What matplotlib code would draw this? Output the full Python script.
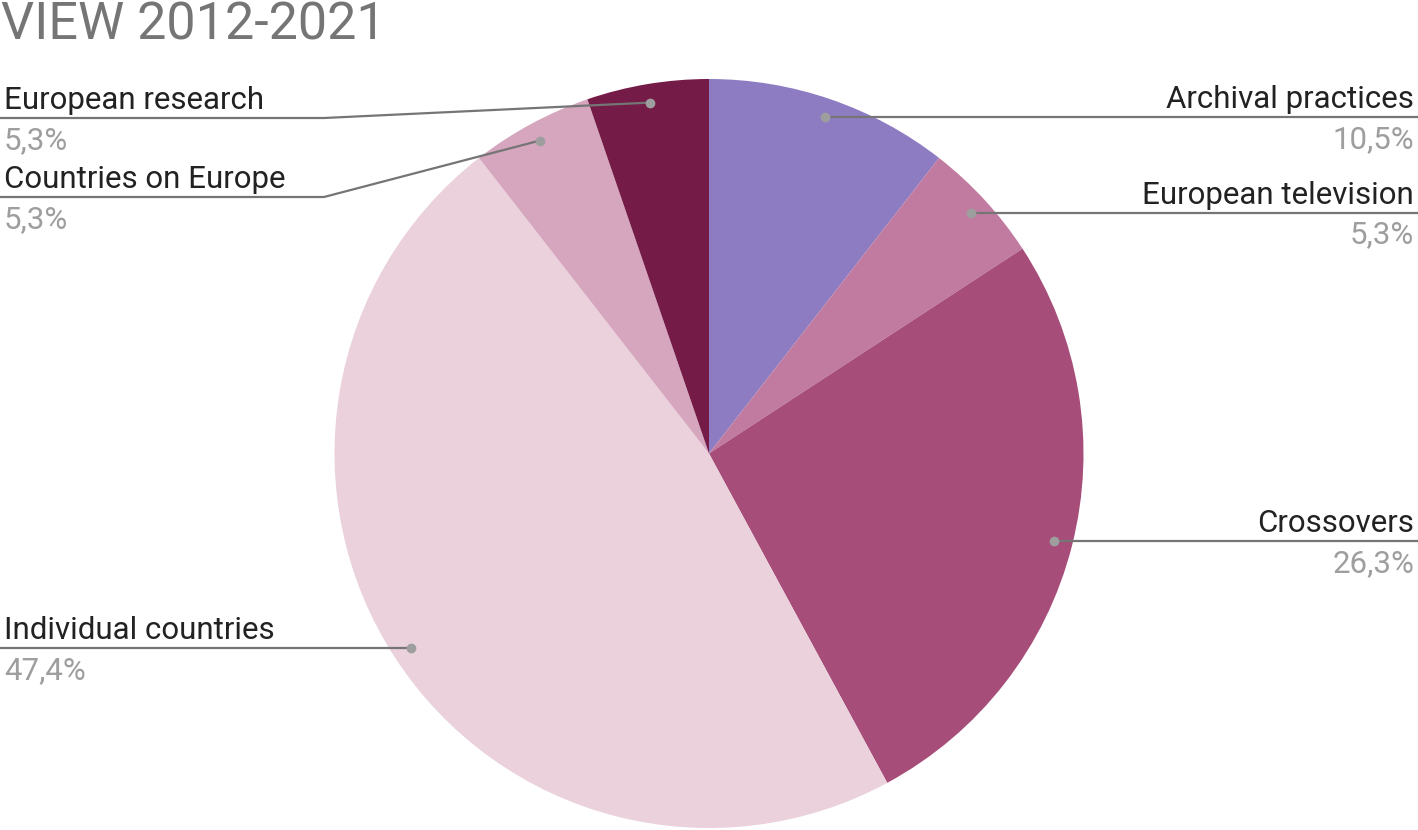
"""Круговая диаграмма VIEW 2012-2021 в стиле Google Sheets."""

import matplotlib

matplotlib.use("Agg")
import matplotlib.pyplot as plt  # noqa: E402
import numpy as np  # noqa: E402

plt.rcParams["font.family"] = ["Roboto", "DejaVu Sans"]

# --- данные -------------------------------------------------------------

categories = [
    "Archival practices",
    "European television",
    "Crossovers",
    "Individual countries",
    "Countries on Europe",
    "European research",
]
counts = [2, 1, 5, 9, 1, 1]
colors = ["#8e7cc3", "#c27ba0", "#a64d79", "#ead1dc", "#d5a6bd", "#741b47"]

# сторона подписи и (для левых) высота выноски, если она не совпадает с точкой
label_side = ["right", "right", "right", "left", "left", "left"]
label_line_y = [None, None, None, None, 197, 118]

# --- геометрия (в пикселях, ось y вниз) ---------------------------------

W, H = 1418, 830
cx, cy, R = 709, 453.5, 374.5
elbow_x = 324
line_col = "#757575"
dot_col = "#9e9e9e"

fig = plt.figure(figsize=(W / 100, H / 100), dpi=100)
ax = fig.add_axes([0, 0, 1, 1])

ax.pie(
    counts, colors=colors, center=(cx, cy), radius=R,
    startangle=-90, counterclock=True,
    wedgeprops=dict(linewidth=0), frame=True,
)
ax.set_xlim(0, W)
ax.set_ylim(H, 0)
ax.set_aspect("equal")
ax.axis("off")

total = sum(counts)
fracs = np.array(counts) / total
mids = -90 + 360 * (np.cumsum(fracs) - fracs / 2)

for name, frac, mid, side, ly in zip(categories, fracs, mids, label_side, label_line_y):
    a = np.deg2rad(mid)
    dx, dy = cx + 0.95 * R * np.cos(a), cy + 0.95 * R * np.sin(a)
    pct = f"{frac * 100:.1f}".replace(".", ",") + "%"
    if ly is None:
        ly = dy
    if side == "right":
        ax.plot([dx, W], [dy, dy], color=line_col, lw=1.6, zorder=3)
        tx, ha = W - 4, "right"
    else:
        if abs(ly - dy) < 1:
            ax.plot([0, dx], [dy, dy], color=line_col, lw=1.6, zorder=3)
        else:
            ax.plot([0, elbow_x, dx], [ly, ly, dy], color=line_col, lw=1.6, zorder=3)
        tx, ha = 4, "left"
    ax.plot(dx, dy, "o", ms=6, color=dot_col, zorder=4)
    ax.text(tx, ly - 9, name, ha=ha, va="baseline", fontsize=22.5, color="#222222")
    ax.text(tx, ly + 8, pct, ha=ha, va="top", fontsize=22.5, color="#9e9e9e")

ax.text(1, 39, "VIEW 2012-2021", ha="left", va="baseline", fontsize=37.5, color="#757575")

fig.savefig("out.png", dpi=100)
plt.close(fig)
